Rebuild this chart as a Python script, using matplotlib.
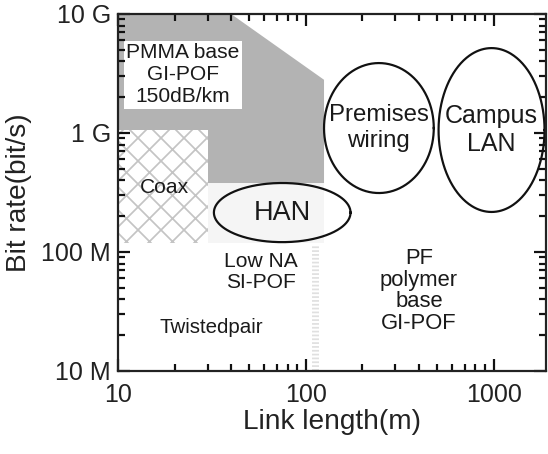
import numpy as np
import matplotlib
matplotlib.use("Agg")
import matplotlib.pyplot as plt
from matplotlib.patches import Polygon, Rectangle
from matplotlib.collections import LineCollection
from matplotlib.ticker import FixedLocator, FixedFormatter, NullFormatter, LogLocator

DPI = 138
W_PX, H_PX = 548, 454


def pt(px):
    """Convert a pixel size into points at the figure resolution."""
    return px * 72.0 / DPI


plt.rcParams['font.family'] = ['Liberation Sans', 'DejaVu Sans']
plt.rcParams['hatch.linewidth'] = 0.9

# ---- data -----------------------------------------------------------------
x_ticks = [10, 100, 1000]
x_tick_labels = ['10', '100', '1000']
y_ticks = [1e7, 1e8, 1e9, 1e10]
y_tick_labels = ['10 M', '100 M', '1 G', '10 G']
x_limits = (10, 1900)
y_limits = (1e7, 1e10)

# PMMA base GI-POF reach (link length in m, bit rate in bit/s)
pmma_length = [10, 40, 125, 125, 30, 30, 10]
pmma_rate = [1e10, 1e10, 2.8e9, 3.8e8, 3.8e8, 1.05e9, 1.05e9]

# Coax reach
coax_length = (10, 30)
coax_rate = (1.2e8, 1.05e9)

# light transition zone under the PMMA region
fade_length = (30, 125)
fade_rate = (1.2e8, 3.8e8)

# Low NA SI-POF limit
low_na_length = (108, 118)
low_na_rate = (1e7, 1.15e8)

# application areas: (length min, length max, rate min, rate max)
area_names = ['HAN', 'Premises\nwiring', 'Campus\nLAN']
area_len_lo = [32.4, 125, 509]
area_len_hi = [173, 480, 1866]
area_rate_lo = [1.21e8, 3.13e8, 2.17e8]
area_rate_hi = [3.8e8, 3.87e9, 5.17e9]
area_font_px = [27, 24, 25]

# region labels
label_texts = ['Coax', 'Low NA\nSI-POF', 'Twistedpair', 'PF\npolymer\nbase\nGI-POF']
label_length = [17.6, 57.7, 31.3, 400]
label_rate = [3.45e8, 6.8e7, 2.34e7, 4.7e7]
label_font_px = [21, 21, 20.5, 22]
label_spacing = [1.2, 1.15, 1.2, 1.05]

pmma_text = 'PMMA base\nGI-POF\n150dB/km'
pmma_text_pos = (22.2, 3.1e9)

# ---- figure -----------------------------------------------------------------
fig = plt.figure(figsize=(W_PX / DPI, H_PX / DPI), dpi=DPI)
left, right, top, bottom = 118, 546, 14, 371
ax_w_px, ax_h_px = right - left, bottom - top
ax = fig.add_axes([left / W_PX, 1 - bottom / H_PX, ax_w_px / W_PX, ax_h_px / H_PX])
ax.set_xscale('log')
ax.set_yscale('log')
ax.set_xlim(*x_limits)
ax.set_ylim(*y_limits)
ax.xaxis.set_major_locator(FixedLocator(x_ticks))
ax.xaxis.set_major_formatter(FixedFormatter(x_tick_labels))
ax.yaxis.set_major_locator(FixedLocator(y_ticks))
ax.yaxis.set_major_formatter(FixedFormatter(y_tick_labels))
ax.xaxis.set_minor_locator(LogLocator(base=10, subs=np.arange(2, 10)))
ax.yaxis.set_minor_locator(LogLocator(base=10, subs=np.arange(2, 10)))
ax.xaxis.set_minor_formatter(NullFormatter())
ax.yaxis.set_minor_formatter(NullFormatter())
ax.tick_params(which='both', direction='in', length=0, labelsize=pt(25),
               labelcolor='#222222')
ax.tick_params(axis='x', which='both', pad=pt(12))
ax.tick_params(axis='y', which='both', pad=pt(7))
for s in ax.spines.values():
    s.set_linewidth(pt(2.2))
    s.set_edgecolor('#222222')
    s.set_zorder(6)

# inward tick marks on all four sides, placed at the axis locator positions
MAJOR_PX, MINOR_PX = 12, 7


def in_range(vals, lo, hi):
    return [v for v in vals if lo * 0.999 <= v <= hi * 1.001]


xmaj = in_range(ax.xaxis.get_majorticklocs(), *x_limits)
xmin = in_range(ax.xaxis.get_minorticklocs(), *x_limits)
ymaj = in_range(ax.yaxis.get_majorticklocs(), *y_limits)
ymin = in_range(ax.yaxis.get_minorticklocs(), *y_limits)

x_segs = []
for vals, size in ((xmaj, MAJOR_PX), (xmin, MINOR_PX)):
    f = size / ax_h_px
    for v in vals:
        x_segs.append([(v, 0), (v, f)])
        x_segs.append([(v, 1), (v, 1 - f)])
y_segs = []
for vals, size in ((ymaj, MAJOR_PX), (ymin, MINOR_PX)):
    f = size / ax_w_px
    for v in vals:
        y_segs.append([(0, v), (f, v)])
        y_segs.append([(1, v), (1 - f, v)])
ax.add_collection(LineCollection(x_segs, transform=ax.get_xaxis_transform(),
                                 colors='#111111', linewidths=pt(2.2),
                                 zorder=5, clip_on=False), autolim=False)
ax.add_collection(LineCollection(y_segs, transform=ax.get_yaxis_transform(),
                                 colors='#111111', linewidths=pt(2.2),
                                 zorder=5, clip_on=False), autolim=False)

# PMMA GI-POF region
ax.add_patch(Polygon(np.column_stack([pmma_length, pmma_rate]), closed=True,
                     facecolor='#b3b3b3', edgecolor='none', zorder=1))

# light zone below it
ax.add_patch(Rectangle((fade_length[0], fade_rate[0]),
                       fade_length[1] - fade_length[0], fade_rate[1] - fade_rate[0],
                       facecolor='#f5f5f5', edgecolor='none', zorder=0.5))

# Coax region (cross-hatched)
ax.add_patch(Rectangle((coax_length[0], coax_rate[0]),
                       coax_length[1] - coax_length[0], coax_rate[1] - coax_rate[0],
                       facecolor='white', edgecolor='#c4c4c4', linewidth=0,
                       hatch='xx', zorder=1))

# Low NA SI-POF limit (faint dashed strip)
ax.add_patch(Rectangle((low_na_length[0], low_na_rate[0]),
                       low_na_length[1] - low_na_length[0], low_na_rate[1] - low_na_rate[0],
                       facecolor='none', edgecolor='#e0e0e0', linewidth=0,
                       hatch='------', zorder=0.6))

# application areas drawn as ellipses in log-log space
t = np.linspace(0, 2 * np.pi, 400)
for name, xl, xh, yl, yh, fpx in zip(area_names, area_len_lo, area_len_hi,
                                     area_rate_lo, area_rate_hi, area_font_px):
    cx = (np.log10(xl) + np.log10(xh)) / 2
    cy = (np.log10(yl) + np.log10(yh)) / 2
    a = (np.log10(xh) - np.log10(xl)) / 2
    b = (np.log10(yh) - np.log10(yl)) / 2
    ax.plot(10 ** (cx + a * np.cos(t)), 10 ** (cy + b * np.sin(t)),
            color='#111111', linewidth=pt(2.2), zorder=3)
    ax.text(10 ** cx, 10 ** cy, name, ha='center', va='center',
            fontsize=pt(fpx), color='#1a1a1a', linespacing=1.2, zorder=4)

for txt, lx, ly, fpx, ls in zip(label_texts, label_length, label_rate,
                                label_font_px, label_spacing):
    ax.text(lx, ly, txt, ha='center', va='center', fontsize=pt(fpx),
            color='#1a1a1a', linespacing=ls, zorder=4)

ax.text(pmma_text_pos[0], pmma_text_pos[1], pmma_text, ha='center', va='center',
        fontsize=pt(21), color='#1a1a1a', linespacing=1.2, zorder=4,
        bbox=dict(boxstyle='square,pad=0.12', facecolor='white', edgecolor='none'))

ax.set_xlim(*x_limits)
ax.set_ylim(*y_limits)
ax.set_xlabel('Link length(m)', fontsize=pt(28), labelpad=pt(2), color='#222222')
ax.set_ylabel('Bit rate(bit/s)', fontsize=pt(28), labelpad=pt(9), color='#222222')

fig.savefig('out.png', dpi=DPI)
